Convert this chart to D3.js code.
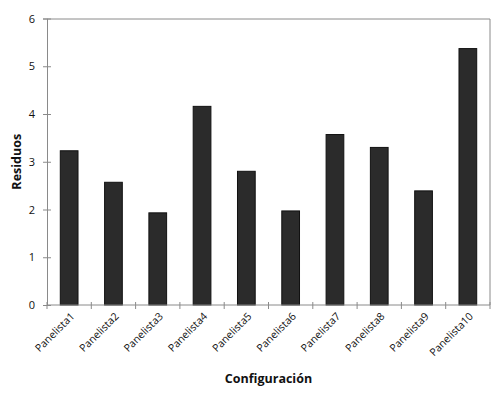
<!DOCTYPE html>
<html>
<head>
<meta charset="utf-8">
<script src="https://cdn.jsdelivr.net/npm/d3@7"></script>
<style>
  body { margin: 0; background: #fff; }
  text { font-family: "Open Sans", "Liberation Sans", sans-serif; fill: #111; }
</style>
</head>
<body>
<svg id="chart"></svg>
<script>
// categories and values
var categories = ["Panelista1", "Panelista2", "Panelista3", "Panelista4", "Panelista5",
                  "Panelista6", "Panelista7", "Panelista8", "Panelista9", "Panelista10"];
var residuos = [3.23, 2.57, 1.93, 4.16, 2.80, 1.97, 3.57, 3.30, 2.39, 5.37];
var yTicks = [0, 1, 2, 3, 4, 5, 6];

var width = 500, height = 397;
var margin = {top: 18.5, right: 10, bottom: 92, left: 47};
var innerW = width - margin.left - margin.right;
var innerH = height - margin.top - margin.bottom;

var svg = d3.select("#chart").attr("width", width).attr("height", height);
var g = svg.append("g").attr("transform", "translate(" + margin.left + "," + margin.top + ")");

var x = d3.scaleBand().domain(categories).range([0, innerW]).padding(0);
var y = d3.scaleLinear().domain([0, 6]).range([innerH, 0]);
var barW = x.bandwidth() * 0.4;
var axisColor = "#8a8a8a";

// frame: top and right
g.append("path")
  .attr("d", "M0,0.5H" + innerW + "V" + innerH)
  .attr("fill", "none").attr("stroke", axisColor).attr("stroke-width", 1);

// bars
g.selectAll("rect.bar")
  .data(residuos)
  .enter().append("rect")
  .attr("class", "bar")
  .attr("x", function(d, i) { return x(categories[i]) + (x.bandwidth() - barW) / 2; })
  .attr("y", function(d) { return y(d); })
  .attr("width", barW)
  .attr("height", function(d) { return innerH - y(d); })
  .attr("fill", "#2b2b2b")
  .attr("stroke", "#111")
  .attr("stroke-width", 1);

// y axis
var yAxis = g.append("g")
  .call(d3.axisLeft(y).tickValues(yTicks).tickSize(4).tickPadding(8).tickFormat(d3.format("d")));
yAxis.select(".domain").attr("stroke", axisColor);
yAxis.selectAll(".tick line").attr("stroke", axisColor).attr("x1", 4).attr("x2", -4);
yAxis.selectAll(".tick text").style("font-size", "11px").attr("fill", "#111");

// x axis line + ticks at category boundaries
var xAxis = g.append("g").attr("transform", "translate(0," + innerH + ")");
xAxis.append("line").attr("x1", 0).attr("x2", innerW).attr("stroke", axisColor);
var bounds = categories.map(function(c) { return x(c); }).concat([innerW]);
xAxis.selectAll("line.tk")
  .data(bounds)
  .enter().append("line")
  .attr("class", "tk")
  .attr("x1", function(d) { return d; }).attr("x2", function(d) { return d; })
  .attr("y1", -3).attr("y2", 4)
  .attr("stroke", axisColor);

// x labels, rotated
xAxis.selectAll("text.lbl")
  .data(categories)
  .enter().append("text")
  .attr("class", "lbl")
  .attr("transform", function(d) {
    return "translate(" + (x(d) + x.bandwidth() / 2 + 6) + ",12) rotate(-45)";
  })
  .attr("text-anchor", "end")
  .style("font-size", "10.5px")
  .text(function(d) { return d; });

// axis titles
svg.append("text")
  .attr("transform", "translate(21," + (margin.top + innerH / 2) + ") rotate(-90)")
  .attr("text-anchor", "middle")
  .style("font-size", "12.5px").style("font-weight", "bold")
  .text("Residuos");

svg.append("text")
  .attr("x", margin.left + innerW / 2).attr("y", 383)
  .attr("text-anchor", "middle")
  .style("font-size", "12.5px").style("font-weight", "bold")
  .text("Configuración");
</script>
</body>
</html>
